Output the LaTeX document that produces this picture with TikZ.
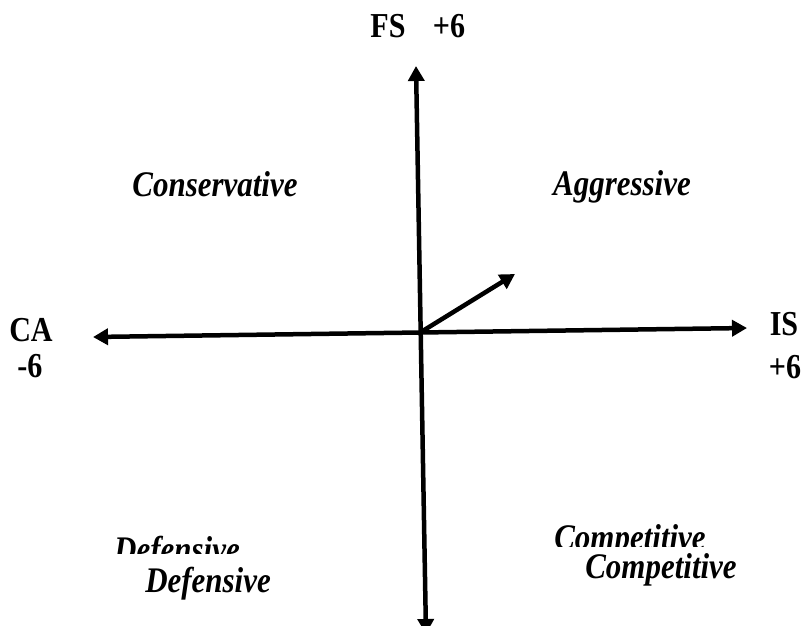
\documentclass[tikz,border=0pt]{standalone}
\usepackage{fontspec}
\setmainfont[FakeStretch=0.86]{Liberation Serif}
\usetikzlibrary{arrows.meta}

\tikzset{
  axis/.style={line width=4.5pt, {Triangle[length=15pt,width=16pt]}-{Triangle[length=15pt,width=16pt]}},
  vecarrow/.style={line width=4.5pt, -{Triangle[length=15pt,width=16pt]}},
  quad/.style={font=\fontsize{36}{40}\selectfont\bfseries\itshape},
  ends/.style={font=\fontsize{35}{40}\selectfont\bfseries}
}

\begin{document}
\begin{tikzpicture}[x=1pt, y=-1pt]
        \useasboundingbox (0,0) rectangle (806,626);
        % axes
        \coordinate (O) at (421,332);
        \coordinate (top) at (416,66);
        \coordinate (bot) at (426,634);
        \coordinate (left) at (93,337);
        \coordinate (right) at (747,328);
        \coordinate (tip) at (515,274);
        \draw[axis] (bot) -- (top);
        \draw[axis] (left) -- (right);
        \draw[vecarrow] (O) -- (tip);
        % axis ends
        \node[ends, anchor=base] (fs) at (388,38) {FS};
        \node[ends, anchor=base] (fsval) at (449,38) {+6};
        \node[ends, anchor=base] (ca) at (31,341) {CA};
        \node[ends, anchor=base] (caval) at (30,377) {-6};
        \node[ends, anchor=base] (is) at (784,335) {IS};
        \node[ends, anchor=base] (isval) at (785,378) {+6};
        % quadrants
        \node[quad, anchor=base] (cons) at (215,196) {Conservative};
        \node[quad, anchor=base] (aggr) at (622,195) {Aggressive};
        \node[quad, anchor=base] (def) at (208,592) {Defensive};
        \node[quad, anchor=base] (comp) at (661,578) {Competitive};
        \begin{scope}
        \clip (100,500) rectangle (260,553);
        \node[quad, anchor=base] (defcut) at (177,561) {Defensive};
        \end{scope}
        \begin{scope}
        \clip (540,500) rectangle (720,546);
        \node[quad, anchor=base] (compcut) at (630,549) {Competitive};
        \end{scope}
\end{tikzpicture}
\end{document}
